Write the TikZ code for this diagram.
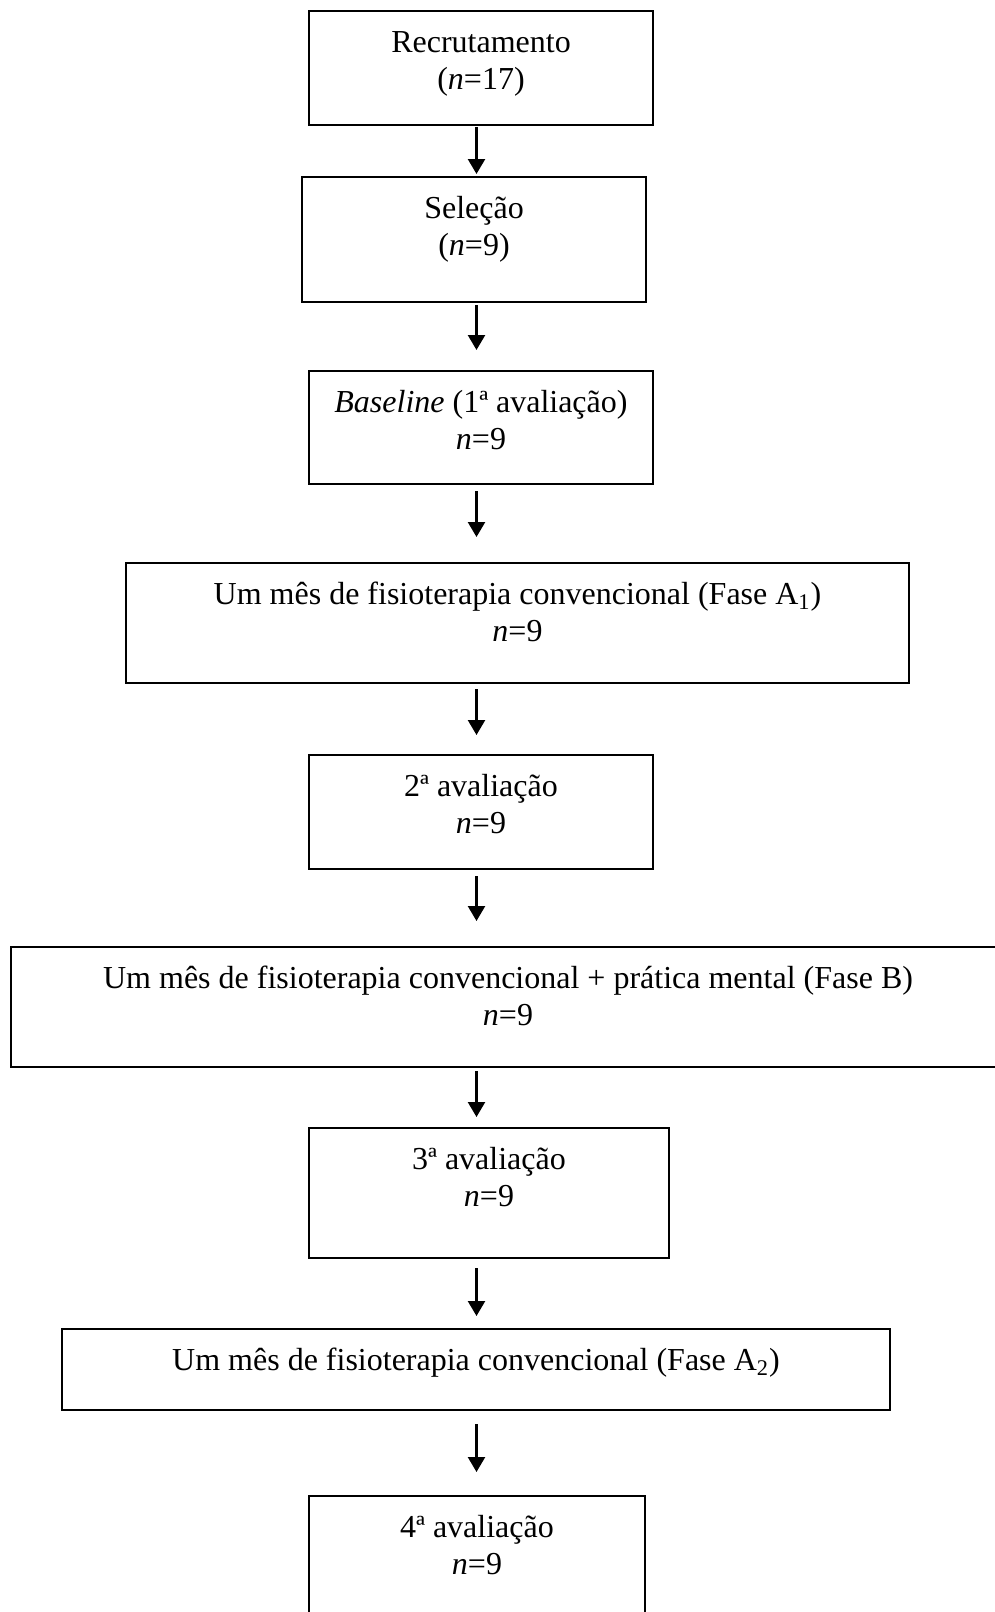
\documentclass[tikz,border=0pt]{standalone}
\usepackage{fontspec}
\setmainfont{Liberation Serif}
\usetikzlibrary{arrows.meta}
\newcommand{\boxfont}{\fontsize{16pt}{18.5pt}\selectfont}

\begin{document}
\begin{tikzpicture}[x=0.5pt, y=-0.5pt,
	stage/.style={draw, line width=1.1pt, inner sep=0pt, outer sep=0pt},
	stagetext/.style={anchor=north, align=center, inner sep=0pt, font=\boxfont},
	flow/.style={-{Triangle[width=8.5pt,length=7.5pt]}, line width=1.2pt}]
	\useasboundingbox (0,0) rectangle (995,1612);
	\coordinate (spine) at (476.5,0);
	
	% boxes
	\node[stage, minimum width=172pt, minimum height=57pt] (recr) at (481,68) {};
	\node[stage, minimum width=172pt, minimum height=62.5pt] (sele) at (474,239.5) {};
	\node[stage, minimum width=172pt, minimum height=56.5pt] (basel) at (481,427.5) {};
	\node[stage, minimum width=391.5pt, minimum height=60pt] (faseA1) at (517.5,623) {};
	\node[stage, minimum width=172pt, minimum height=57pt] (aval2) at (481,812) {};
	\node[stage, minimum width=497pt, minimum height=60pt] (faseB) at (508,1007) {};
	\node[stage, minimum width=180pt, minimum height=65pt] (aval3) at (489,1193) {};
	\node[stage, minimum width=414pt, minimum height=40.5pt] (faseA2) at (476,1369.5) {};
	\node[stage, minimum width=168pt, minimum height=62.5pt] (aval4) at (477,1558.5) {};
	
	% texts
	\node[stagetext] (recr-t) at ([yshift=-7.6pt]recr.north) {\strut Recrutamento\\(\textit{n}=17)};
	\node[stagetext] (sele-t) at ([yshift=-7.6pt]sele.north) {\strut Seleção\\(\textit{n}=9)};
	\node[stagetext] (basel-t) at ([yshift=-7.6pt]basel.north) {\strut\textit{Baseline} (1ª avaliação)\\\textit{n}=9};
	\node[stagetext] (faseA1-t) at ([yshift=-7.6pt]faseA1.north) {\strut Um mês de fisioterapia convencional (Fase A\textsubscript{1})\\\textit{n}=9};
	\node[stagetext] (aval2-t) at ([yshift=-7.6pt]aval2.north) {\strut 2ª avaliação\\\textit{n}=9};
	\node[stagetext] (faseB-t) at ([yshift=-7.6pt]faseB.north) {\strut Um mês de fisioterapia convencional + prática mental (Fase B)\\\textit{n}=9};
	\node[stagetext] (aval3-t) at ([yshift=-7.6pt]aval3.north) {\strut 3ª avaliação\\\textit{n}=9};
	\node[stagetext] (faseA2-t) at ([yshift=-7.6pt]faseA2.north) {\strut Um mês de fisioterapia convencional (Fase A\textsubscript{2})};
	\node[stagetext] (aval4-t) at ([yshift=-7.6pt]aval4.north) {\strut 4ª avaliação\\\textit{n}=9};
	
	% arrows
	\foreach \a/\b/\s/\e in {recr/sele/1/1.5, sele/basel/1.5/10.5, basel/faseA1/3.5/13, faseA1/aval2/3/10, aval2/faseB/3.5/13, faseB/aval3/2/5.5, aval3/faseA2/5/6.5, faseA2/aval4/7/12}{
		\draw[flow, shorten <=\s pt, shorten >=\e pt] (\a.south -| spine) -- (\b.north -| spine);
	}
\end{tikzpicture}
\end{document}
